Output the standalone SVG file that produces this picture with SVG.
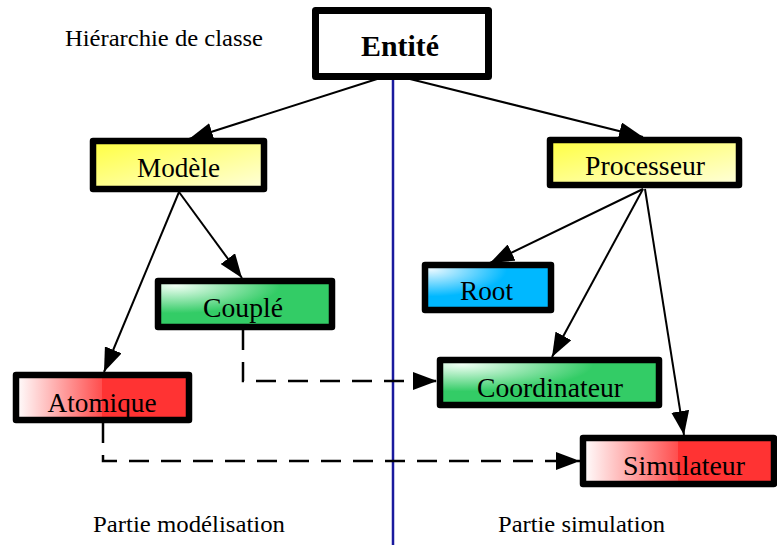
<svg xmlns="http://www.w3.org/2000/svg" width="777" height="545" viewBox="0 0 777 545">
<style>
.box{stroke:#000;stroke-width:6.5;stroke-linejoin:round}
.t{font-family:'Liberation Serif','DejaVu Serif',serif;font-size:27px;fill:#000;text-anchor:middle}
.lbl{font-family:'Liberation Serif','DejaVu Serif',serif;font-size:24px;fill:#000}
.c{stroke:#000;stroke-width:2;fill:none}
.d{stroke:#000;stroke-width:2.5;fill:none;stroke-dasharray:20,12}
</style>
<defs>
<marker id="ah" viewBox="0 0 24 18" refX="24" refY="9" markerWidth="24" markerHeight="18" markerUnits="userSpaceOnUse" orient="auto">
<path d="M0,0 L24,9 L0,18 Z" fill="#000"/>
</marker>
<linearGradient id="yel" x1="0" y1="0" x2="1" y2="1">
<stop offset="0" stop-color="#ffff40"/>
<stop offset="1" stop-color="#ffffdc"/>
</linearGradient>
<radialGradient id="grn" cx="0.1" cy="0.1" r="0.6">
<stop offset="0" stop-color="#f0fff4"/>
<stop offset="1" stop-color="#33cc66"/>
</radialGradient>
<radialGradient id="blu" cx="0.05" cy="0.1" r="0.6">
<stop offset="0" stop-color="#e8f8ff"/>
<stop offset="1" stop-color="#00b8ff"/>
</radialGradient>
<linearGradient id="red" x1="0" y1="0" x2="1" y2="0">
<stop offset="0" stop-color="#ffffff"/>
<stop offset="0.5" stop-color="#ff4d4d"/>
<stop offset="0.5" stop-color="#ff3333"/>
<stop offset="1" stop-color="#ff3333"/>
</linearGradient>
</defs>
<rect width="777" height="545" fill="#fff"/>
<line x1="393" y1="78" x2="393" y2="545" stroke="#1a1a9e" stroke-width="2.5"/>
<g id="connectors">
<path class="c" d="M377,79 L189,139" marker-end="url(#ah)"/>
<path class="c" d="M410,79 L643,137" marker-end="url(#ah)"/>
<path class="c" d="M179,192 L104,372" marker-end="url(#ah)"/>
<path class="c" d="M179,192 L242,278" marker-end="url(#ah)"/>
<path class="c" d="M643,189 L490,263" marker-end="url(#ah)"/>
<path class="c" d="M643,189 L552,357" marker-end="url(#ah)"/>
<path class="c" d="M645,189 L684,435" marker-end="url(#ah)"/>
<path class="d" d="M243,330 L243,381 L437,381" marker-end="url(#ah)"/>
<path class="d" d="M103,423 L103,461 L580,461" marker-end="url(#ah)"/>
</g>
<g id="entite">
<rect x="315.5" y="10.5" width="173" height="66" fill="#fff" stroke="#000" stroke-width="7" stroke-linejoin="round"/>
<text x="400" y="56" class="t" style="font-size:30px;font-weight:bold" textLength="78" lengthAdjust="spacingAndGlyphs">Entité</text>
</g>
<g id="modele">
<rect class="box" x="93" y="141" width="171" height="48" fill="url(#yel)"/>
<text x="178.5" y="177" class="t" textLength="83" lengthAdjust="spacingAndGlyphs">Modèle</text>
</g>
<g id="processeur">
<rect class="box" x="550" y="140" width="189" height="45" fill="url(#yel)"/>
<text x="645" y="175" class="t" textLength="120" lengthAdjust="spacingAndGlyphs">Processeur</text>
</g>
<g id="couple">
<rect class="box" x="158" y="281" width="174" height="46" fill="url(#grn)"/>
<text x="243" y="317" class="t" textLength="80" lengthAdjust="spacingAndGlyphs">Couplé</text>
</g>
<g id="root">
<rect class="box" x="425" y="265" width="126" height="45" fill="url(#blu)"/>
<text x="486.5" y="300" class="t" textLength="53" lengthAdjust="spacingAndGlyphs">Root</text>
</g>
<g id="atomique">
<rect class="box" x="16" y="375" width="173" height="45" fill="url(#red)"/>
<text x="102" y="412" class="t" textLength="109" lengthAdjust="spacingAndGlyphs">Atomique</text>
</g>
<g id="coordinateur">
<rect class="box" x="440" y="360" width="219" height="45" fill="url(#grn)"/>
<text x="550" y="397" class="t" textLength="146" lengthAdjust="spacingAndGlyphs">Coordinateur</text>
</g>
<g id="simulateur">
<rect class="box" x="583" y="438" width="191" height="46" fill="url(#red)"/>
<text x="684" y="475" class="t" textLength="122" lengthAdjust="spacingAndGlyphs">Simulateur</text>
</g>
<text x="65" y="46" class="lbl" textLength="198" lengthAdjust="spacingAndGlyphs">Hiérarchie de classe</text>
<text x="93" y="532" class="lbl" textLength="192" lengthAdjust="spacingAndGlyphs">Partie modélisation</text>
<text x="498" y="532" class="lbl" textLength="167" lengthAdjust="spacingAndGlyphs">Partie simulation</text>
</svg>
